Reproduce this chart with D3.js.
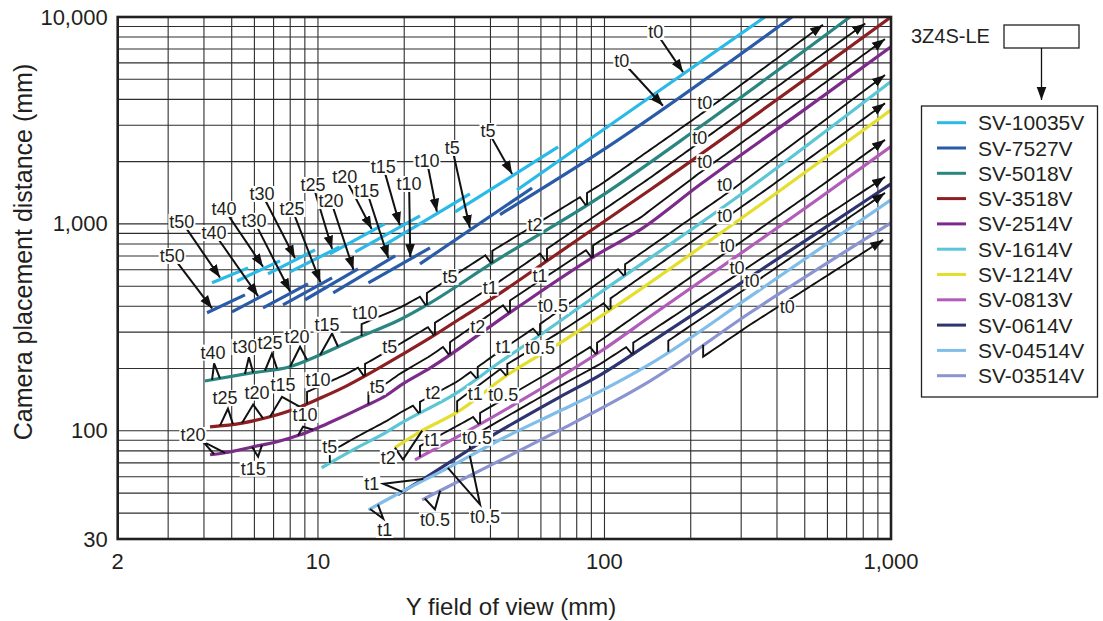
<!DOCTYPE html>
<html><head><meta charset="utf-8">
<script src="https://cdn.jsdelivr.net/npm/d3@7"></script>
<style>
body{margin:0;background:#fff;}
text{font-family:"Liberation Sans",Arial,Helvetica,sans-serif;fill:#231f20;}
</style></head><body>
<svg id="chart" width="1103" height="621"></svg>
<script>
// ---------- DATA ----------
const xGridVals = [3,4,5,6,7,8,9,10,20,30,40,50,60,70,80,90,100,200,300,400,500,600,700,800,900];
const yGridVals = [40,50,60,70,80,90,100,200,300,400,500,600,700,800,900,1000,2000,3000,4000,5000,6000,7000,8000,9000];
const xTickVals = [2,10,100,1000];
const yTickVals = [30,100,1000,10000];

const lensNames = ["SV-10035V","SV-7527V","SV-5018V","SV-3518V","SV-2514V","SV-1614V","SV-1214V","SV-0813V","SV-0614V","SV-04514V","SV-03514V"];
const lensColors = ["#2bb9e8","#2a5ba8","#2a8681","#8c1f22","#7d2b8b","#5cc6d6","#e4de2c","#b05cb8","#2e3470","#80bde8","#8a94d0"];

// thickness (extension tube) labels for the two segmented lenses
const tubeThick = ["t50","t40","t30","t25","t20","t15","t10","t5","t0"];
// [FOV mm, distance mm]
const sv10035Segments = [
  [[4.27,519],[5.70,613]],
  [[5.22,530],[7.37,663]],
  [[6.69,573],[9.77,749]],
  [[7.99,586],[11.9,774]],
  [[11.0,716],[17.1,1000]],
  [[13.5,732],[22.7,1093]],
  [[17.1,792],[33.9,1396]],
  [[30.1,1143],[68.9,2355]],
  [[49.5,1459],[96.5,2782],[363,10000]]
];
const sv7527Segments = [
  [[4.10,372],[5.56,454]],
  [[5.01,376],[6.91,475]],
  [[6.43,393],[9.23,513]],
  [[7.55,406],[11.2,548]],
  [[9.01,430],[13.8,606]],
  [[11.3,464],[18.6,700]],
  [[15.0,519],[24.6,766]],
  [[22.7,641],[55.9,1492]],
  [[43.2,1110],[96.5,2227],[451,10000]]
];
const sv10035LabelPos = [[3.35,1023],[4.70,1181],[6.38,1396],[9.61,1543],[12.4,1687],[16.9,1886],[24.0,2015],[39.2,2813],[151,8462]];
const sv10035TipFov = [4.55,6.43,8.31,11.2,15.4,19.3,26.0,47.6,188];
const sv7527LabelPos = [[3.10,700],[4.34,904],[5.98,1034],[8.12,1181],[11.1,1291],[14.8,1443],[20.8,1560],[29.4,2329],[115,6131]];
const sv7527TipFov = [4.27,6.18,7.99,10.2,13.3,17.6,21.0,33.9,160];

// continuous curves [FOV mm, distance mm]
const sv5018V = [[4.03,174],[5.79,190],[7.99,204],[10.2,233],[13.7,281],[19.3,344],[24.0,406],[40.6,648],[96.5,1350],[215,2940],[719,10000]];
const sv3518V = [[4.20,104.5],[5.44,109],[6.80,117],[8.66,130.5],[10.2,144],[12.6,165],[15.2,190],[19.3,230],[24.6,281],[31.3,348],[39.9,430],[70.0,733],[144,1459],[1000,10000]];
const sv2514V = [[4.20,76.6],[4.74,78.3],[5.94,83.7],[7.20,88.5],[8.66,95.6],[9.93,103],[10.9,109],[14.4,130.5],[17.4,149],[19.3,165],[24.6,201],[47.7,380],[96.5,724],[133,935],[215,1545],[481,3440],[1000,7180]];
const sv1614V = [[10.3,66.3],[13.7,82.9],[17.4,98.9],[19.3,108],[30.6,153],[43.2,215],[61.2,298],[96.5,465],[282,1308],[1000,4880]];
const sv1214V = [[18.55,82.9],[22.7,98.9],[30.6,123],[45.8,186],[70.0,266],[96.5,356],[370,1308],[1000,3554]];
const sv0813V = [[21.8,72.4],[33.9,101],[70.0,182],[96.5,241],[144,356],[552,1308],[1000,2365]];
const sv0614V = [[19.0,49.1],[24.6,61.3],[36.8,87.5],[70.0,146],[96.5,186],[144,266],[825,1308],[1000,1560]];
const sv04514V = [[15.0,41.5],[19.3,50.2],[28.9,67.0],[43.2,90.5],[70.0,125],[96.5,155],[144,210],[322,445],[1000,1308]];
const sv03514V = [[23.1,46.4],[33.9,60.7],[70.0,101],[110.5,141],[144,174],[322,372],[1000,1011]];

// pointer annotations: label at FOV lx, apex at FOV ax, legs to curve at xa, xb
const ptr5018V = [
  {t:"t40",lx:4.30,ax:4.34,xa:4.27,xb:4.55},
  {t:"t30",lx:5.56,ax:5.74,xa:5.56,xb:5.94},
  {t:"t25",lx:6.80,ax:6.91,xa:6.53,xb:7.20},
  {t:"t20",lx:8.45,ax:8.66,xa:7.99,xb:9.16},
  {t:"t15",lx:10.75,ax:11.2,xa:10.17,xb:11.75}
];
const ptr3518V = [
  {t:"t25",lx:4.74,ax:4.85,xa:4.55,xb:5.05},
  {t:"t20",lx:6.13,ax:5.94,xa:5.43,xb:6.43},
  {t:"t15",lx:7.55,ax:7.49,xa:6.80,xb:8.66}
];
const ptr2514V = [
  {t:"t20",lx:3.66,ax:3.97,xa:4.34,xb:4.74,ldy:22,ady:14},
  {t:"t15",lx:5.94,ax:6.18,xa:5.89,xb:6.38,ldy:-22,ady:-11},
  {t:"t10",lx:9.01,ax:8.87,xa:8.52,xb:9.61,ldy:18,ady:7}
];
const ptr1214V = [{t:"t2",lx:17.6,ax:19.8,xa:18.55,xb:23.1,ldy:-6,ady:-17}];
const ptr0614V = [{t:"t1",lx:15.4,ax:16.9,xa:19.7,xb:23.3,ldy:27,ady:20}];
const ptr04514V = [
  {t:"t1",lx:17.1,ax:16.9,xa:15.2,xb:16.2,ldy:-29,ady:-17},
  {t:"t0.5",lx:38.3,ax:36.8,xa:28.4,xb:33.9,ldy:-69,ady:-54}
];
const ptr03514V = [{t:"t0.5",lx:25.6,ax:25.6,xa:23.6,xb:26.7,ldy:-27,ady:-16}];

// range annotations: FOV range x0..x1 of each tube thickness, label at FOV lx
const rng5018V = [
  {t:"t10",x0:14.2,x1:24.0,lx:14.6,ldy:22},
  {t:"t5",x0:24.0,x1:40.6,lx:28.9,ldy:13},
  {t:"t2",x0:40.6,x1:86.9,lx:57.2,ldy:12},
  {t:"t0",x0:86.9,x1:579,lx:224,ldy:20,end:"arrow"}
];
const rng3518V = [
  {t:"t10",x0:9.16,x1:14.6,lx:10.0,ldy:19},
  {t:"t5",x0:14.6,x1:25.6,lx:17.8,ldy:15},
  {t:"t1",x0:25.6,x1:63.0,lx:39.9,ldy:12},
  {t:"t0",x0:63.0,x1:813,lx:215,ldy:16,end:"arrow"}
];
const rng2514V = [
  {t:"t5",x0:15.0,x1:28.9,lx:16.1,ldy:13},
  {t:"t2",x0:28.9,x1:46.8,lx:36.1,ldy:8},
  {t:"t1",x0:46.8,x1:91.2,lx:59.6,ldy:17},
  {t:"t0",x0:91.2,x1:953,lx:224,ldy:19,end:"arrow"}
];
const rng1614V = [
  {t:"t5",x0:11.0,x1:22.7,lx:11.0,ldy:16},
  {t:"t2",x0:22.7,x1:36.1,lx:25.2,ldy:13},
  {t:"t1",x0:36.1,x1:59.6,lx:44.3,ldy:13},
  {t:"t0.5",x0:59.6,x1:118,lx:66.1,ldy:20},
  {t:"t0",x0:118,x1:953,lx:263,ldy:21,end:"arrow"}
];
const rng1214V = [
  {t:"t1",x0:30.6,x1:45.8,lx:35.4,ldy:5},
  {t:"t0.5",x0:45.8,x1:105,lx:59.6,ldy:7},
  {t:"t0",x0:105,x1:953,lx:263,ldy:13,end:"arrow"}
];
const rng0813V = [
  {t:"t1",x0:22.7,x1:36.8,lx:25.0,ldy:11},
  {t:"t0.5",x0:36.8,x1:94.2,lx:44.3,ldy:15},
  {t:"t0",x0:94.2,x1:953,lx:268,ldy:17,end:"arrow"}
];
const rng0614V = [
  {t:"t0.5",x0:33.9,x1:126,lx:35.9,ldy:7},
  {t:"t0",x0:126,x1:953,lx:290,ldy:18,end:"arrow"}
];
const rng04514V = [{t:"t0",x0:167,x1:953,lx:327,ldy:14,end:"arrow"}];
const rng03514V = [{t:"t0",x0:221,x1:939,lx:434,ldy:-18,end:"arrow"}];

// ---------- DRAW ----------
const X = d3.scaleLog().domain([2,1000]).range([117.7,891]);
const Y = d3.scaleLog().domain([30,10000]).range([539,17]);
const svg = d3.select("#chart");
const defs = svg.append("defs");
defs.append("marker").attr("id","ah").attr("viewBox","0 0 10 10")
  .attr("refX",10).attr("refY",5).attr("markerWidth",13).attr("markerHeight",13)
  .attr("markerUnits","userSpaceOnUse").attr("orient","auto")
  .append("path").attr("d","M0,1.3L10,5L0,8.7Z").attr("fill","#111");
defs.append("clipPath").attr("id","plotclip").append("rect")
  .attr("x",X(2)).attr("y",Y(10000)).attr("width",X(1000)-X(2)).attr("height",Y(30)-Y(10000));

// grid
const gridG = svg.append("g");
gridG.selectAll("line.gx").data(xGridVals).join("line").attr("class","gx")
  .attr("x1",d=>X(d)).attr("x2",d=>X(d)).attr("y1",Y(30)).attr("y2",Y(10000))
  .attr("stroke","#2e2e2e").attr("stroke-width",1.1);
gridG.selectAll("line.gy").data(yGridVals).join("line").attr("class","gy")
  .attr("y1",d=>Y(d)).attr("y2",d=>Y(d)).attr("x1",X(2)).attr("x2",X(1000))
  .attr("stroke","#2e2e2e").attr("stroke-width",1.1);

const line = d3.line().x(d=>X(d[0])).y(d=>Y(d[1])).curve(d3.curveMonotoneX);
const plotG = svg.append("g").attr("clip-path","url(#plotclip)");

const curves = [
  {data:sv5018V, c:lensColors[2], ptr:ptr5018V, rng:rng5018V, off:12},
  {data:sv3518V, c:lensColors[3], ptr:ptr3518V, rng:rng3518V, off:12},
  {data:sv2514V, c:lensColors[4], ptr:ptr2514V, rng:rng2514V, off:12},
  {data:sv1614V, c:lensColors[5], ptr:[], rng:rng1614V, off:11},
  {data:sv1214V, c:lensColors[6], ptr:ptr1214V, rng:rng1214V, off:11},
  {data:sv0813V, c:lensColors[7], ptr:[], rng:rng0813V, off:11},
  {data:sv0614V, c:lensColors[8], ptr:ptr0614V, rng:rng0614V, off:11},
  {data:sv04514V, c:lensColors[9], ptr:ptr04514V, rng:rng04514V, off:11},
  {data:sv03514V, c:lensColors[10], ptr:ptr03514V, rng:rng03514V, off:-12}
];

const segSets = [
  {segs:sv10035Segments, c:lensColors[0], labels:sv10035LabelPos, tips:sv10035TipFov},
  {segs:sv7527Segments, c:lensColors[1], labels:sv7527LabelPos, tips:sv7527TipFov}
];
segSets.forEach(s=>{
  s.segs.forEach(seg=>{
    plotG.append("path").attr("d",line(seg)).attr("fill","none").attr("stroke",s.c).attr("stroke-width",3.2);
  });
});
curves.forEach(cv=>{
  plotG.append("path").attr("d",line(cv.data)).attr("fill","none").attr("stroke",cv.c).attr("stroke-width",3.2);
});

function interpPx(P, px){
  let i=0;
  if(px<=P[0][0]) i=0;
  else if(px>=P[P.length-1][0]) i=P.length-2;
  else { while(P[i+1][0]<px) i++; }
  const a=P[i], b=P[i+1];
  return a[1]+(b[1]-a[1])*(px-a[0])/(b[0]-a[0]);
}
const toPx = data => data.map(d=>[X(d[0]),Y(d[1])]);

const annG = svg.append("g");
const labelList = [];
const TL = 18;
function addLabel(x,y,txt,size){ labelList.push({x,y,txt,size}); }

curves.forEach(cv=>{
  const P = toPx(cv.data);
  const cy = px => interpPx(P,px);
  cv.ptr.forEach(p=>{
    const ldy = p.ldy!==undefined ? p.ldy : 27;
    const ady = p.ady!==undefined ? p.ady : 16;
    const ax = X(p.ax), ay = cy(ax)-ady;
    const xa = X(p.xa), xb = X(p.xb);
    annG.append("path").attr("d",d3.line()([[xa,cy(xa)],[ax,ay],[xb,cy(xb)]]))
      .attr("fill","none").attr("stroke","#111").attr("stroke-width",2).attr("stroke-linejoin","miter");
    addLabel(X(p.lx), cy(X(p.lx))-ldy, p.t, TL);
  });
  cv.rng.forEach(r=>{
    const off = cv.off;
    const x0 = X(r.x0), x1 = X(r.x1);
    const pts = [[x0,cy(x0)],[x0,cy(x0)-off]];
    const endX = r.end==="arrow" ? x1 : x1-7;
    for(let px=x0+3; px<endX; px+=3) pts.push([px, cy(px)-off]);
    pts.push([endX, cy(endX)-off]);
    if(r.end!=="arrow") pts.push([x1-1, cy(x1-1)]);
    const path = annG.append("path").attr("d",d3.line()(pts)).attr("fill","none")
      .attr("stroke","#111").attr("stroke-width",1.9);
    if(r.end==="arrow") path.attr("marker-end","url(#ah)");
    if(r.t) addLabel(X(r.lx), cy(X(r.lx))-r.ldy, r.t, TL);
  });
});

segSets.forEach(s=>{
  s.tips.forEach((tf,i)=>{
    const P = toPx(s.segs[i]);
    const tx = X(tf), ty = interpPx(P,tx);
    const lx = X(s.labels[i][0]), ly = Y(s.labels[i][1]);
    annG.append("line").attr("x1",lx).attr("y1",ly).attr("x2",tx).attr("y2",ty-2)
      .attr("stroke","#111").attr("stroke-width",2).attr("marker-end","url(#ah)");
    addLabel(lx, ly, tubeThick[i], TL);
  });
});

// frame
svg.append("rect").attr("x",X(2)).attr("y",Y(10000)).attr("width",X(1000)-X(2)).attr("height",Y(30)-Y(10000))
  .attr("fill","none").attr("stroke","#231f20").attr("stroke-width",2.6);

// labels with white background
const labG = svg.append("g");
labelList.forEach(l=>{
  const g = labG.append("g");
  const rect = g.append("rect").attr("fill","#fff");
  const t = g.append("text").attr("x",l.x).attr("y",l.y).attr("text-anchor","middle")
    .attr("dominant-baseline","central").attr("font-size",l.size).text(l.txt);
  const bb = t.node().getBBox();
  rect.attr("x",bb.x-1).attr("y",bb.y+2).attr("width",bb.width+2).attr("height",bb.height-4);
});

// axis tick labels
const fmt = d3.format(",");
svg.append("g").selectAll("text").data(xTickVals).join("text")
  .attr("x",d=>X(d)).attr("y",Y(30)+22).attr("text-anchor","middle").attr("dominant-baseline","central")
  .attr("font-size",22).text(d=>fmt(d));
svg.append("g").selectAll("text").data(yTickVals).join("text")
  .attr("x",X(2)-10).attr("y",d=>Y(d)).attr("text-anchor","end").attr("dominant-baseline","central")
  .attr("font-size",22).text(d=>fmt(d));

// axis titles
svg.append("text").attr("x",511).attr("y",606).attr("text-anchor","middle")
  .attr("dominant-baseline","central").attr("font-size",24).text("Y field of view (mm)");
svg.append("text").attr("transform","translate(23,252) rotate(-90)").attr("text-anchor","middle")
  .attr("dominant-baseline","central").attr("font-size",25).text("Camera placement distance (mm)");

// legend
const legG = svg.append("g");
legG.append("text").attr("x",911).attr("y",36).attr("dominant-baseline","central").attr("font-size",20).text("3Z4S-LE");
legG.append("rect").attr("x",1004).attr("y",25).attr("width",75).attr("height",23).attr("fill","#fff").attr("stroke","#231f20").attr("stroke-width",1.3);
legG.append("line").attr("x1",1041.5).attr("y1",48).attr("x2",1041.5).attr("y2",100).attr("stroke","#111").attr("stroke-width",1.3).attr("marker-end","url(#ah)");
legG.append("rect").attr("x",921.5).attr("y",106).attr("width",176).attr("height",291).attr("fill","#fff").attr("stroke","#231f20").attr("stroke-width",1.3);
lensNames.forEach((n,i)=>{
  const yy = 122.7 + i*25.3;
  legG.append("line").attr("x1",937).attr("x2",966).attr("y1",yy).attr("y2",yy).attr("stroke",lensColors[i]).attr("stroke-width",3);
  legG.append("text").attr("x",978).attr("y",yy).attr("dominant-baseline","central").attr("font-size",21).text(n);
});
</script>
</body></html>
